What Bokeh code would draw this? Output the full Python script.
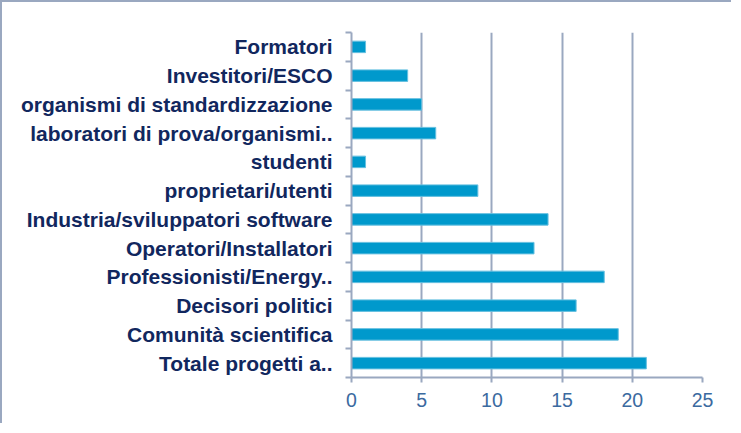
from bokeh.plotting import figure
from bokeh.models import Range1d, FixedTicker, ColumnDataSource
from bokeh.embed import file_html
from bokeh.resources import INLINE

# Categories listed bottom-to-top
categories = [
    "Totale progetti a..",
    "Comunità scientifica",
    "Decisori politici",
    "Professionisti/Energy..",
    "Operatori/Installatori",
    "Industria/sviluppatori software",
    "proprietari/utenti",
    "studenti",
    "laboratori di prova/organismi..",
    "organismi di standardizzazione",
    "Investitori/ESCO",
    "Formatori",
]
values = [21, 19, 16, 18, 13, 14, 9, 1, 6, 5, 4, 1]
x_ticks = [0, 5, 10, 15, 20, 25]

positions = list(range(len(categories)))
boundaries = [i - 0.5 for i in range(len(categories) + 1)]

GRID = "#9aa8c0"

p = figure(width=731, height=423, output_backend="svg", toolbar_location=None,
           x_range=Range1d(0, 25), y_range=Range1d(-0.5, len(categories) - 0.5),
           min_border_left=349, min_border_right=31, min_border_top=30,
           min_border_bottom=48)
p.styles = {"border-top": f"2px solid {GRID}", "border-left": f"2px solid {GRID}"}

src = ColumnDataSource(dict(y=positions, right=values))
p.hbar(y="y", right="right", left=0, height=0.4, source=src,
       fill_color="#0099cc", line_color="#66c0e0", line_width=1)

p.outline_line_color = None
p.background_fill_color = "white"

# y axis
p.yaxis.ticker = FixedTicker(ticks=positions, minor_ticks=boundaries)
p.yaxis.major_label_overrides = {i: c for i, c in zip(positions, categories)}
p.yaxis.major_tick_out = 0
p.yaxis.major_tick_in = 0
p.yaxis.minor_tick_out = 6
p.yaxis.minor_tick_in = 0
p.yaxis.minor_tick_line_color = GRID
p.yaxis.minor_tick_line_width = 2
p.yaxis.axis_line_color = GRID
p.yaxis.axis_line_width = 2
p.yaxis.major_label_standoff = 13
p.yaxis.major_label_text_font = "Liberation Sans"
p.yaxis.major_label_text_font_style = "bold"
p.yaxis.major_label_text_font_size = "21px"
p.yaxis.major_label_text_color = "#11275e"

# x axis
p.xaxis.ticker = FixedTicker(ticks=x_ticks)
p.xaxis.major_tick_out = 5
p.xaxis.major_tick_in = 0
p.xaxis.major_tick_line_color = GRID
p.xaxis.major_tick_line_width = 2
p.xaxis.minor_tick_line_color = None
p.xaxis.axis_line_color = GRID
p.xaxis.axis_line_width = 2
p.xaxis.major_label_standoff = 10
p.xaxis.major_label_text_font = "Liberation Sans"
p.xaxis.major_label_text_font_size = "19.5px"
p.xaxis.major_label_text_color = "#3b6aa0"

p.ygrid.grid_line_color = None
p.xgrid.ticker = FixedTicker(ticks=x_ticks)
p.xgrid.grid_line_color = GRID
p.xgrid.grid_line_width = 2

open("out.html", "w").write(file_html(p, INLINE))
